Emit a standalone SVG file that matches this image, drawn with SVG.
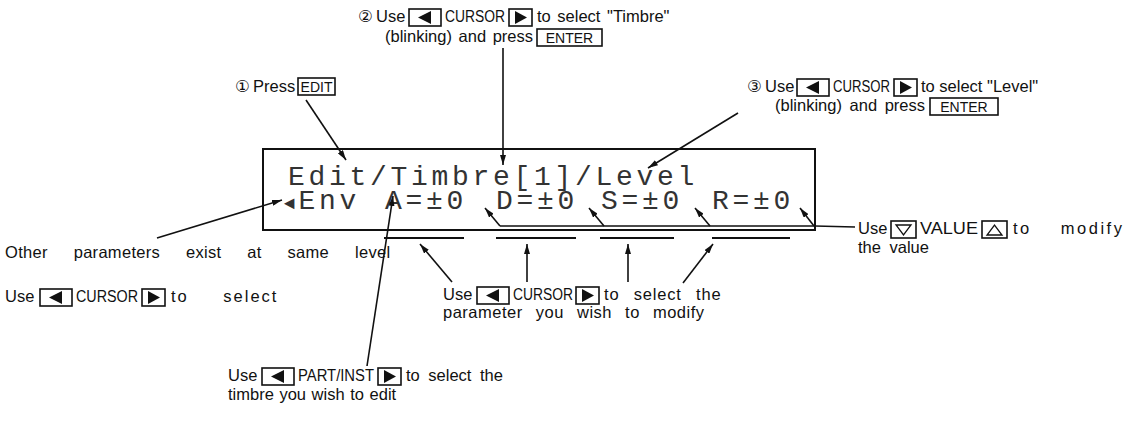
<svg xmlns="http://www.w3.org/2000/svg" width="1142" height="424" viewBox="0 0 1142 424">
<style>
.t{font-family:"Liberation Sans","DejaVu Sans",sans-serif;font-size:16.5px;fill:#111}
.u{font-family:"Liberation Sans","DejaVu Sans",sans-serif;font-size:16px;fill:#111}
.k{font-family:"Liberation Sans","DejaVu Sans",sans-serif;font-size:14px;fill:#111}
.lcd{font-family:"Liberation Mono","DejaVu Sans Mono",monospace;font-size:28px;fill:#333;letter-spacing:3.7px}
.kb{fill:none;stroke:#111;stroke-width:1.6}
.tri{fill:#111}
.otri{fill:none;stroke:#111;stroke-width:1.3}
.ln{fill:none;stroke:#111;stroke-width:1.6}
.ul{fill:none;stroke:#111;stroke-width:2}
</style>
<defs>
<marker id="ah" viewBox="0 0 10 6" refX="10" refY="3" markerWidth="10" markerHeight="6" markerUnits="userSpaceOnUse" orient="auto"><path d="M0,0 L10,3 L0,6 z" fill="#111"/></marker>
</defs>
<rect width="1142" height="424" fill="#fff"/>

<g id="lcd">
<rect x="263" y="149" width="552" height="81" fill="none" stroke="#111" stroke-width="2"/>
<text class="lcd" x="288" y="185">Edit/Timbre[1]/Level</text>
<text class="lcd" x="284" y="209"><tspan font-size="18">◄</tspan>Env</text>
<text class="lcd" x="385" y="209">A=±0</text>
<text class="lcd" x="496" y="209">D=±0</text>
<text class="lcd" x="601" y="209">S=±0</text>
<text class="lcd" x="712" y="209">R=±0</text>
</g>

<g id="step1">
<text class="t" x="235" y="92">①</text>
<text class="t" x="253" y="92">Press</text>
<rect class="kb" x="298" y="78" width="37" height="17"/>
<text class="k" x="316.5" y="92" text-anchor="middle">EDIT</text>
</g>

<g id="step2">
<text class="t" x="358" y="22">②</text>
<text class="t" x="376" y="22">Use</text>
<rect class="kb" x="409" y="9" width="32" height="17"/>
<polygon class="tri" points="418,17.5 431,11 431,24"/>
<text class="u" x="445" y="22" textLength="60" lengthAdjust="spacingAndGlyphs">CURSOR</text>
<rect class="kb" x="509" y="9" width="23" height="17"/>
<polygon class="tri" points="515,11 527,17.5 515,24"/>
<text class="t" x="537" y="22" style="word-spacing:2px">to select "Timbre"</text>
<text class="t" x="385" y="42" style="word-spacing:2px">(blinking) and press</text>
<rect class="kb" x="537" y="29" width="65" height="17"/>
<text class="k" x="569.5" y="43" text-anchor="middle">ENTER</text>
</g>

<g id="step3">
<text class="t" x="747" y="92">③</text>
<text class="t" x="765" y="92">Use</text>
<rect class="kb" x="797" y="79" width="32" height="17"/>
<polygon class="tri" points="806,87.5 819,81 819,94"/>
<text class="u" x="833" y="92" textLength="57" lengthAdjust="spacingAndGlyphs">CURSOR</text>
<rect class="kb" x="894" y="79" width="23" height="17"/>
<polygon class="tri" points="900,81 912,87.5 900,94"/>
<text class="t" x="921" y="92">to select "Level"</text>
<text class="t" x="775" y="111" style="word-spacing:3px">(blinking) and press</text>
<rect class="kb" x="930" y="98" width="68" height="17"/>
<text class="k" x="964" y="112" text-anchor="middle">ENTER</text>
</g>

<g id="other">
<text class="t" x="5" y="258" style="word-spacing:21px;letter-spacing:0.3px">Other parameters exist at same level</text>
</g>

<g id="cursor-left">
<text class="t" x="5" y="302">Use</text>
<rect class="kb" x="40" y="289" width="32" height="17"/>
<polygon class="tri" points="49,297.5 62,291 62,304"/>
<text class="u" x="76" y="302" textLength="62" lengthAdjust="spacingAndGlyphs">CURSOR</text>
<rect class="kb" x="142" y="289" width="23" height="17"/>
<polygon class="tri" points="148,291 160,297.5 148,304"/>
<text class="t" x="171" y="302" style="word-spacing:28px;letter-spacing:2px">to select</text>
</g>

<g id="value">
<text class="t" x="858" y="234">Use</text>
<rect class="kb" x="891" y="221" width="25" height="17"/>
<polygon class="otri" points="896,225 911,225 903.5,235"/>
<text class="u" x="920" y="234" textLength="58" lengthAdjust="spacingAndGlyphs">VALUE</text>
<rect class="kb" x="982" y="221" width="25" height="17"/>
<polygon class="otri" points="987,235 1002,235 994.5,225"/>
<text class="t" x="1013" y="234" style="word-spacing:22px;letter-spacing:2.5px">to modify</text>
<text class="t" x="858" y="253" style="word-spacing:4px">the value</text>
</g>

<g id="param">
<text class="t" x="443" y="300">Use</text>
<rect class="kb" x="477" y="287" width="32" height="17"/>
<polygon class="tri" points="486,295.5 499,289 499,302"/>
<text class="u" x="513" y="300" textLength="60" lengthAdjust="spacingAndGlyphs">CURSOR</text>
<rect class="kb" x="576" y="287" width="23" height="17"/>
<polygon class="tri" points="582,289 594,295.5 582,302"/>
<text class="t" x="604" y="300" style="word-spacing:9px;letter-spacing:0.8px">to select the</text>
<text class="t" x="443" y="318" style="word-spacing:8px;letter-spacing:0.5px">parameter you wish to modify</text>
</g>

<g id="timbre">
<text class="t" x="228" y="381">Use</text>
<rect class="kb" x="262" y="368" width="32" height="17"/>
<polygon class="tri" points="271,376.5 284,370 284,383"/>
<text class="u" x="298" y="381" textLength="76" lengthAdjust="spacingAndGlyphs">PART/INST</text>
<rect class="kb" x="378" y="368" width="23" height="17"/>
<polygon class="tri" points="384,370 396,376.5 384,383"/>
<text class="t" x="406" y="381" style="word-spacing:4px">to select the</text>
<text class="t" x="228" y="400" style="word-spacing:1px">timbre you wish to edit</text>
</g>

<g id="connectors">
<line class="ln" x1="306" y1="100" x2="346" y2="160" marker-end="url(#ah)"/>
<line class="ln" x1="503" y1="48" x2="503" y2="165" marker-end="url(#ah)"/>
<line class="ln" x1="738" y1="113" x2="648" y2="168" marker-end="url(#ah)"/>
<line class="ln" x1="157" y1="238" x2="282" y2="200" marker-end="url(#ah)"/>
<line class="ln" x1="367" y1="366" x2="393" y2="196" marker-end="url(#ah)"/>
<polyline class="ln" points="500,226 815,226 855,227"/>
<line class="ln" x1="500" y1="226" x2="485" y2="208" marker-end="url(#ah)"/>
<line class="ln" x1="604" y1="226" x2="589" y2="208" marker-end="url(#ah)"/>
<line class="ln" x1="710" y1="226" x2="695" y2="208" marker-end="url(#ah)"/>
<line class="ln" x1="814" y1="226" x2="800" y2="208" marker-end="url(#ah)"/>
<line class="ul" x1="384" y1="238" x2="464" y2="238"/>
<line class="ul" x1="496" y1="238" x2="576" y2="238"/>
<line class="ul" x1="600" y1="238" x2="674" y2="238"/>
<line class="ul" x1="712" y1="238" x2="790" y2="238"/>
<line class="ln" x1="452" y1="282" x2="420" y2="244" marker-end="url(#ah)"/>
<line class="ln" x1="527" y1="282" x2="527" y2="244" marker-end="url(#ah)"/>
<line class="ln" x1="628" y1="282" x2="628" y2="244" marker-end="url(#ah)"/>
<line class="ln" x1="683" y1="283" x2="713" y2="244" marker-end="url(#ah)"/>
</g>
</svg>
